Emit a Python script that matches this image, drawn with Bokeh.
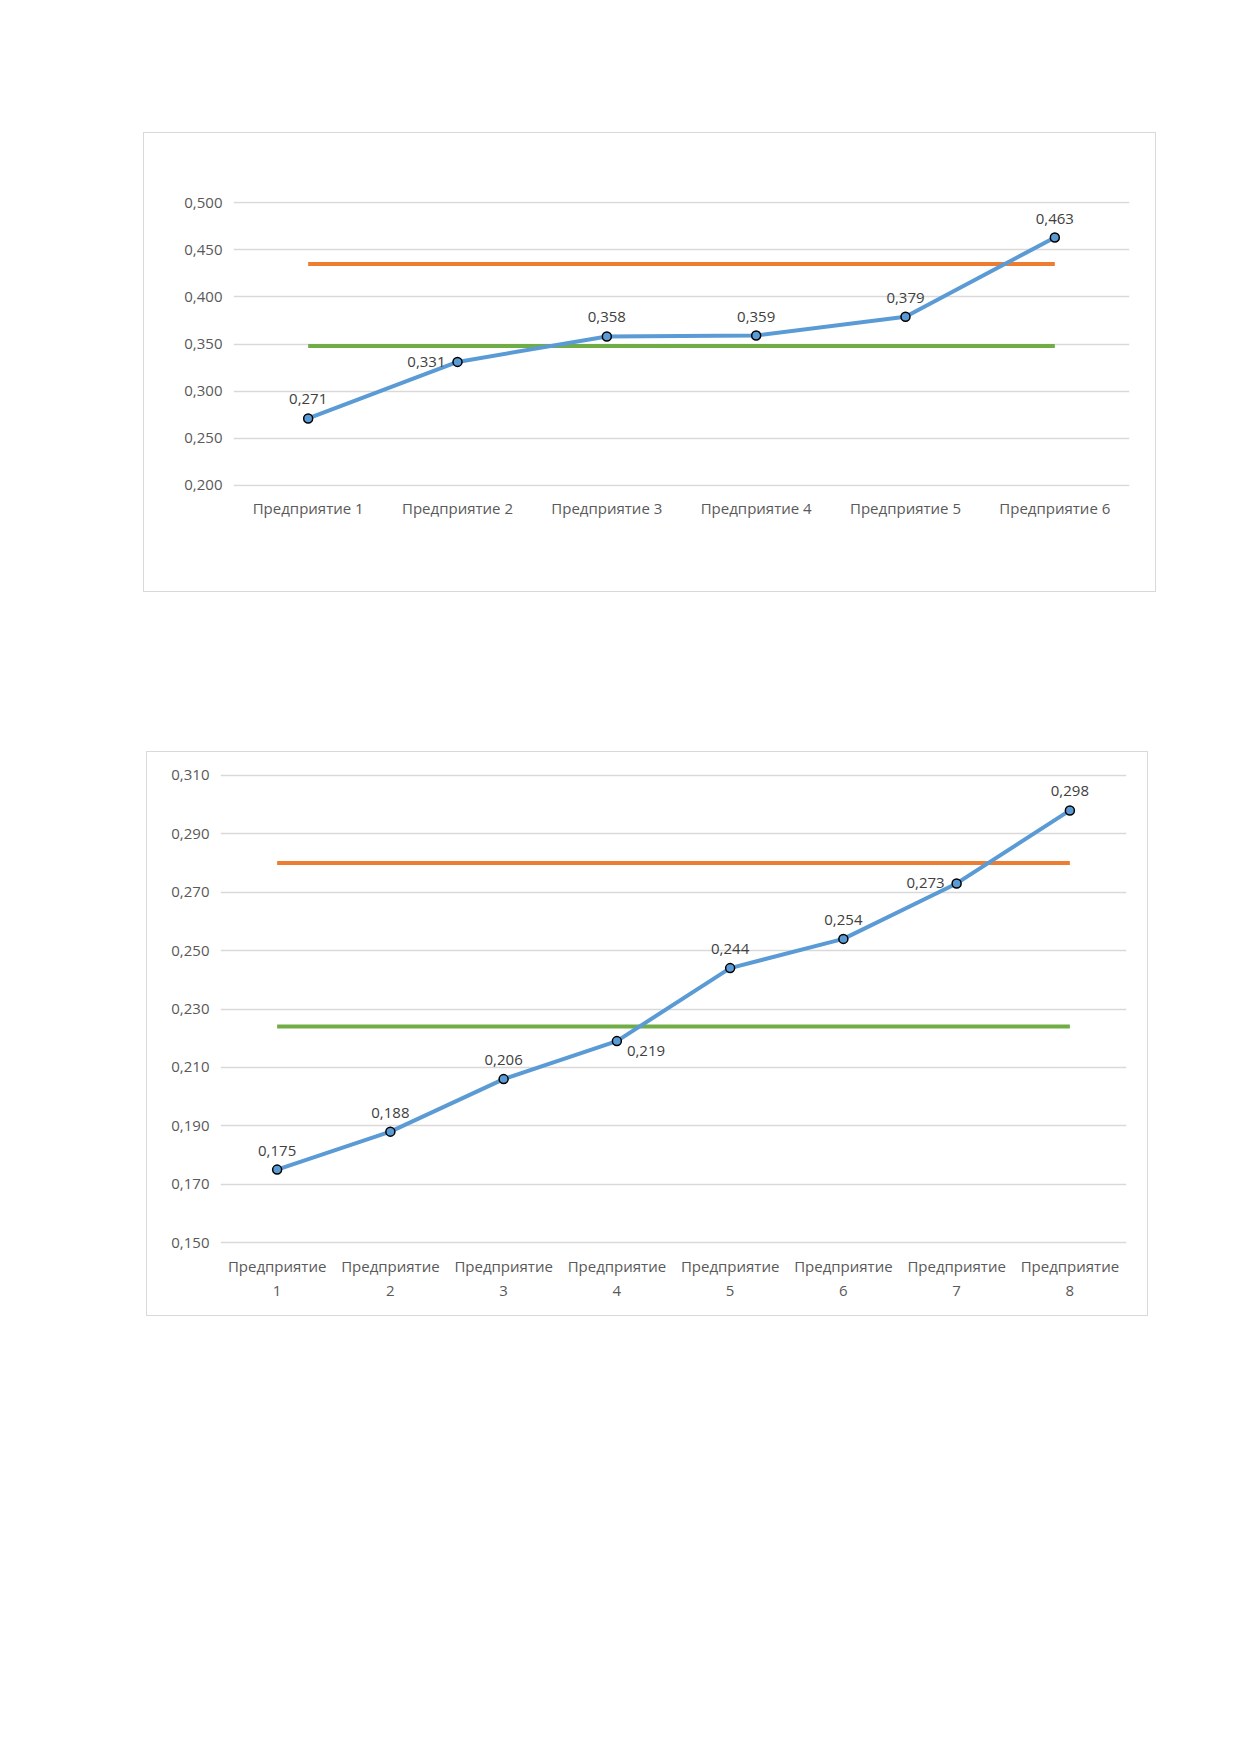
from bokeh.plotting import figure
from bokeh.layouts import column, row
from bokeh.models import Spacer, FixedTicker, Range1d
from bokeh.embed import file_html
from bokeh.resources import INLINE

cats1 = ["Предприятие 1", "Предприятие 2", "Предприятие 3", "Предприятие 4", "Предприятие 5", "Предприятие 6"]
vals1 = [0.271, 0.331, 0.358, 0.359, 0.379, 0.463]
upper1 = 0.435
lower1 = 0.348
yticks1 = [0.200, 0.250, 0.300, 0.350, 0.400, 0.450, 0.500]
lab_off1 = [(0, 14, "center"), (-12, 0, "right"), (0, 14, "center"), (0, 14, "center"), (0, 14, "center"), (0, 14, "center")]

cats2 = ["Предприятие\n1", "Предприятие\n2", "Предприятие\n3", "Предприятие\n4", "Предприятие\n5", "Предприятие\n6", "Предприятие\n7", "Предприятие\n8"]
vals2 = [0.175, 0.188, 0.206, 0.219, 0.244, 0.254, 0.273, 0.298]
upper2 = 0.280
lower2 = 0.224
yticks2 = [0.150, 0.170, 0.190, 0.210, 0.230, 0.250, 0.270, 0.290, 0.310]
lab_off2 = [(0, 14, "center"), (0, 14, "center"), (0, 14, "center"), (10, -10, "left"), (0, 14, "center"), (0, 14, "center"), (-12, 0, "right"), (0, 14, "center")]

BLUE, ORANGE, GREEN = "#5B9BD5", "#ED7D31", "#70AD47"
FONT = "Open Sans"
TXT = "#595959"

def make(cats, vals, up, lo, yticks, offs, w, h, mins, yr):
    n = len(cats)
    xs = list(range(n))
    pad = (yr[1] - yr[0]) * 0.004
    p = figure(width=w, height=h, output_backend="svg", toolbar_location=None,
               x_range=Range1d(-0.5, n - 0.5), y_range=Range1d(yr[0] - pad, yr[1] + pad),
               min_border_left=mins[0], min_border_right=mins[1],
               min_border_top=mins[2], min_border_bottom=mins[3])
    p.outline_line_color = None
    p.border_fill_color = "white"
    p.xgrid.visible = False
    p.ygrid.grid_line_color = "#d9d9d9"
    p.ygrid.grid_line_width = 1.3
    p.ygrid.ticker = FixedTicker(ticks=yticks)
    p.yaxis.ticker = FixedTicker(ticks=yticks)
    p.yaxis.major_label_overrides = {t: f"{t:.3f}".replace(".", ",") for t in yticks}
    p.xaxis.ticker = FixedTicker(ticks=xs)
    p.xaxis.major_label_overrides = {i: c for i, c in enumerate(cats)}
    for ax in (p.xaxis, p.yaxis):
        ax.axis_line_color = None
        ax.major_tick_line_color = None
        ax.minor_tick_line_color = None
        ax.major_label_text_font = FONT
        ax.major_label_text_font_size = "15px"
        ax.major_label_text_color = TXT
    p.line([0, n - 1], [up, up], color=ORANGE, line_width=4)
    p.line([0, n - 1], [lo, lo], color=GREEN, line_width=4)
    p.line(xs, vals, color=BLUE, line_width=4)
    p.scatter(xs, vals, size=9, fill_color=BLUE, line_color="black", line_width=1.5)
    for x, v, (dx, dy, al) in zip(xs, vals, offs):
        p.text([x], [v], text=[f"{v:.3f}".replace(".", ",")], x_offset=dx, y_offset=-dy,
               text_align=al, text_baseline="middle" if dy <= 0 or al != "center" else "bottom",
               text_font={"value": FONT}, text_font_size="15px", text_color="#404040")
    return p

p1 = make(cats1, vals1, upper1, lower1, yticks1, lab_off1, 1013, 460, (89, 28, 68, 107), (0.2, 0.5))
p2 = make(cats2, vals2, upper2, lower2, yticks2, lab_off2, 1002, 565, (73, 23, 21, 73), (0.15, 0.31))

layout = column(
    Spacer(height=132),
    row(Spacer(width=143), p1),
    Spacer(height=159),
    row(Spacer(width=146), p2),
    spacing=0,
)
for p in (p1, p2):
    p.styles = {"border": "1.5px solid #d9d9d9"}

open("out.html", "w").write(file_html(layout, INLINE))
